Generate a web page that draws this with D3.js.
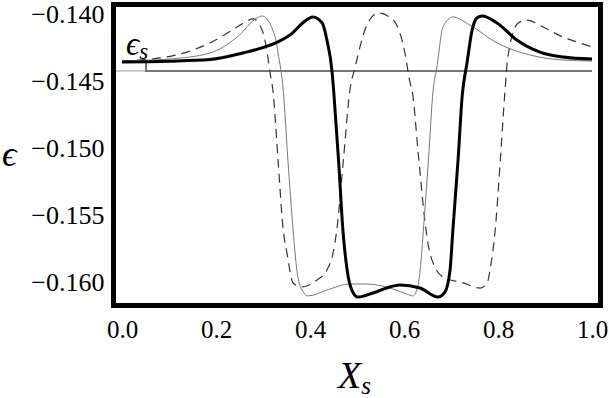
<!DOCTYPE html>
<html>
<head>
<meta charset="utf-8">
<script src="https://cdn.jsdelivr.net/npm/d3@7"></script>
<style>
  body { margin: 0; background: #fff; }
  text { font-family: "Liberation Serif", "Times New Roman", Times, serif; fill: #000; }
</style>
</head>
<body>
<svg id="chart" width="609" height="398"></svg>
<script>
// tick values
var xTicks = [0, 0.2, 0.4, 0.6, 0.8, 1.0];
var yTicks = [-0.160, -0.155, -0.150, -0.145, -0.140];

// thick black curve
var thickX = [0, 0.10, 0.187, 0.257, 0.309, 0.336, 0.360, 0.385, 0.406, 0.426, 0.436, 0.447, 0.451, 0.461, 0.470, 0.479, 0.489, 0.502, 0.534, 0.570, 0.591, 0.634, 0.672, 0.687, 0.698, 0.704, 0.715, 0.724, 0.734, 0.745, 0.755, 0.766, 0.798, 0.840, 0.889, 0.938, 1.0];
var thickE = [-0.14358, -0.14352, -0.14340, -0.14291, -0.14240, -0.14200, -0.14150, -0.14065, -0.14022, -0.14067, -0.14194, -0.14433, -0.14604, -0.15104, -0.15612, -0.15910, -0.16060, -0.16112, -0.16082, -0.16037, -0.16022, -0.16045, -0.16112, -0.16075, -0.15910, -0.15612, -0.15090, -0.14604, -0.14366, -0.14119, -0.14030, -0.14015, -0.14067, -0.14194, -0.14284, -0.14321, -0.14336];

// thin grey curve
var thinX = [0, 0.10, 0.187, 0.245, 0.287, 0.298, 0.326, 0.332, 0.343, 0.353, 0.364, 0.372, 0.383, 0.396, 0.436, 0.485, 0.521, 0.570, 0.606, 0.619, 0.630, 0.636, 0.642, 0.652, 0.662, 0.670, 0.683, 0.704, 0.740, 0.798, 0.868, 0.938, 1.0];
var thinE = [-0.14350, -0.14336, -0.14291, -0.14172, -0.14030, -0.14015, -0.14172, -0.14291, -0.14567, -0.15090, -0.15612, -0.15910, -0.16060, -0.16104, -0.16060, -0.16015, -0.16015, -0.16045, -0.16090, -0.16104, -0.16022, -0.15850, -0.15575, -0.15090, -0.14567, -0.14396, -0.14097, -0.14022, -0.14082, -0.14216, -0.14306, -0.14343, -0.14351];

// dashed curve
var dashX = [0, 0.081, 0.138, 0.187, 0.245, 0.266, 0.279, 0.298, 0.309, 0.315, 0.321, 0.332, 0.343, 0.351, 0.364, 0.383, 0.415, 0.436, 0.449, 0.457, 0.471, 0.485, 0.496, 0.521, 0.545, 0.577, 0.602, 0.613, 0.617, 0.631, 0.645, 0.655, 0.683, 0.726, 0.762, 0.777, 0.783, 0.794, 0.805, 0.815, 0.821, 0.843, 0.862, 0.896, 0.938, 0.974, 1.0];
var dashE = [-0.14351, -0.14328, -0.14284, -0.14216, -0.14097, -0.14052, -0.14037, -0.14119, -0.14291, -0.14440, -0.14567, -0.15090, -0.15612, -0.15784, -0.16007, -0.16037, -0.15985, -0.15910, -0.15784, -0.15612, -0.15090, -0.14567, -0.14396, -0.14082, -0.13993, -0.14045, -0.14291, -0.14515, -0.14567, -0.15067, -0.15560, -0.15784, -0.15963, -0.16007, -0.16045, -0.16007, -0.15910, -0.15612, -0.15090, -0.14567, -0.14321, -0.14067, -0.14045, -0.14097, -0.14172, -0.14216, -0.14246];

// epsilon_s marker
var epsS = -0.14425;
var xMark = 0.051;
var markTop = -0.14362;

var svg = d3.select('#chart');

var x = d3.scaleLinear().domain([0, 1]).range([122, 592]);
var y = d3.scaleLinear().domain([-0.160, -0.140]).range([282, 14]);

var fL = 113.5, fR = 600.5, fT = 4.5, fB = 305.5;
var serif = '"Liberation Serif", "Times New Roman", Times, serif';

svg.append('clipPath').attr('id', 'clip')
  .append('rect')
  .attr('x', fL).attr('y', fT)
  .attr('width', fR - fL).attr('height', fB - fT);

var plot = svg.append('g').attr('clip-path', 'url(#clip)');

var line = d3.line()
  .x(function(d) { return x(d[0]); })
  .y(function(d) { return y(d[1]); })
  .curve(d3.curveMonotoneX);

var straight = d3.line()
  .x(function(d) { return x(d[0]); })
  .y(function(d) { return y(d[1]); });

function pairs(xs, es) {
  return xs.map(function(v, i) { return [v, es[i]]; });
}

// thin line at eps_s from the frame to the marker
plot.append('line')
  .attr('x1', fL).attr('x2', x(xMark))
  .attr('y1', y(epsS)).attr('y2', y(epsS))
  .attr('stroke', '#999').attr('stroke-width', 1);

// grey step marker
plot.append('path')
  .attr('d', straight([[xMark, markTop], [xMark, epsS], [1, epsS]]))
  .attr('fill', 'none')
  .attr('stroke', '#777')
  .attr('stroke-width', 2);

plot.append('path')
  .attr('d', line(pairs(dashX, dashE)))
  .attr('fill', 'none')
  .attr('stroke', '#333')
  .attr('stroke-width', 1.2)
  .attr('stroke-dasharray', '9,6');

plot.append('path')
  .attr('d', line(pairs(thinX, thinE)))
  .attr('fill', 'none')
  .attr('stroke', '#777')
  .attr('stroke-width', 1);

plot.append('path')
  .attr('d', line(pairs(thickX, thickE)))
  .attr('fill', 'none')
  .attr('stroke', '#000')
  .attr('stroke-width', 3);

// frame
svg.append('rect')
  .attr('x', fL).attr('y', fT)
  .attr('width', fR - fL).attr('height', fB - fT)
  .attr('fill', 'none')
  .attr('stroke', '#000')
  .attr('stroke-width', 5);

// axes (labels only)
var yAxis = svg.append('g')
  .attr('transform', 'translate(' + fL + ',0)')
  .call(d3.axisLeft(y).tickValues(yTicks).tickSize(0).tickPadding(9).tickFormat(d3.format('.3f')));
yAxis.attr('font-family', null).attr('font-size', null);
yAxis.select('.domain').remove();
yAxis.selectAll('text').style('font-size', '26px').style('font-family', serif);

var xAxis = svg.append('g')
  .attr('transform', 'translate(0,' + fB + ')')
  .call(d3.axisBottom(x).tickValues(xTicks).tickSize(0).tickPadding(15).tickFormat(d3.format('.1f')));
xAxis.attr('font-family', null).attr('font-size', null);
xAxis.select('.domain').remove();
xAxis.selectAll('text').style('font-size', '25px').style('font-family', serif);

// axis titles
svg.append('text')
  .attr('x', 2).attr('y', 166)
  .style('font-size', '36px').style('font-style', 'italic')
  .text('\u03F5');

var xt = svg.append('text')
  .attr('x', 338).attr('y', 388)
  .style('font-size', '38px').style('font-style', 'italic');
xt.append('tspan').text('X');
xt.append('tspan').attr('dy', 6).style('font-size', '25px').text('s');

// eps_s label
var es = svg.append('text')
  .attr('x', 126).attr('y', 55)
  .style('font-size', '33px').style('font-style', 'italic');
es.append('tspan').text('\u03F5');
es.append('tspan').attr('dy', 4).style('font-size', '23px').text('s');
</script>
</body>
</html>
